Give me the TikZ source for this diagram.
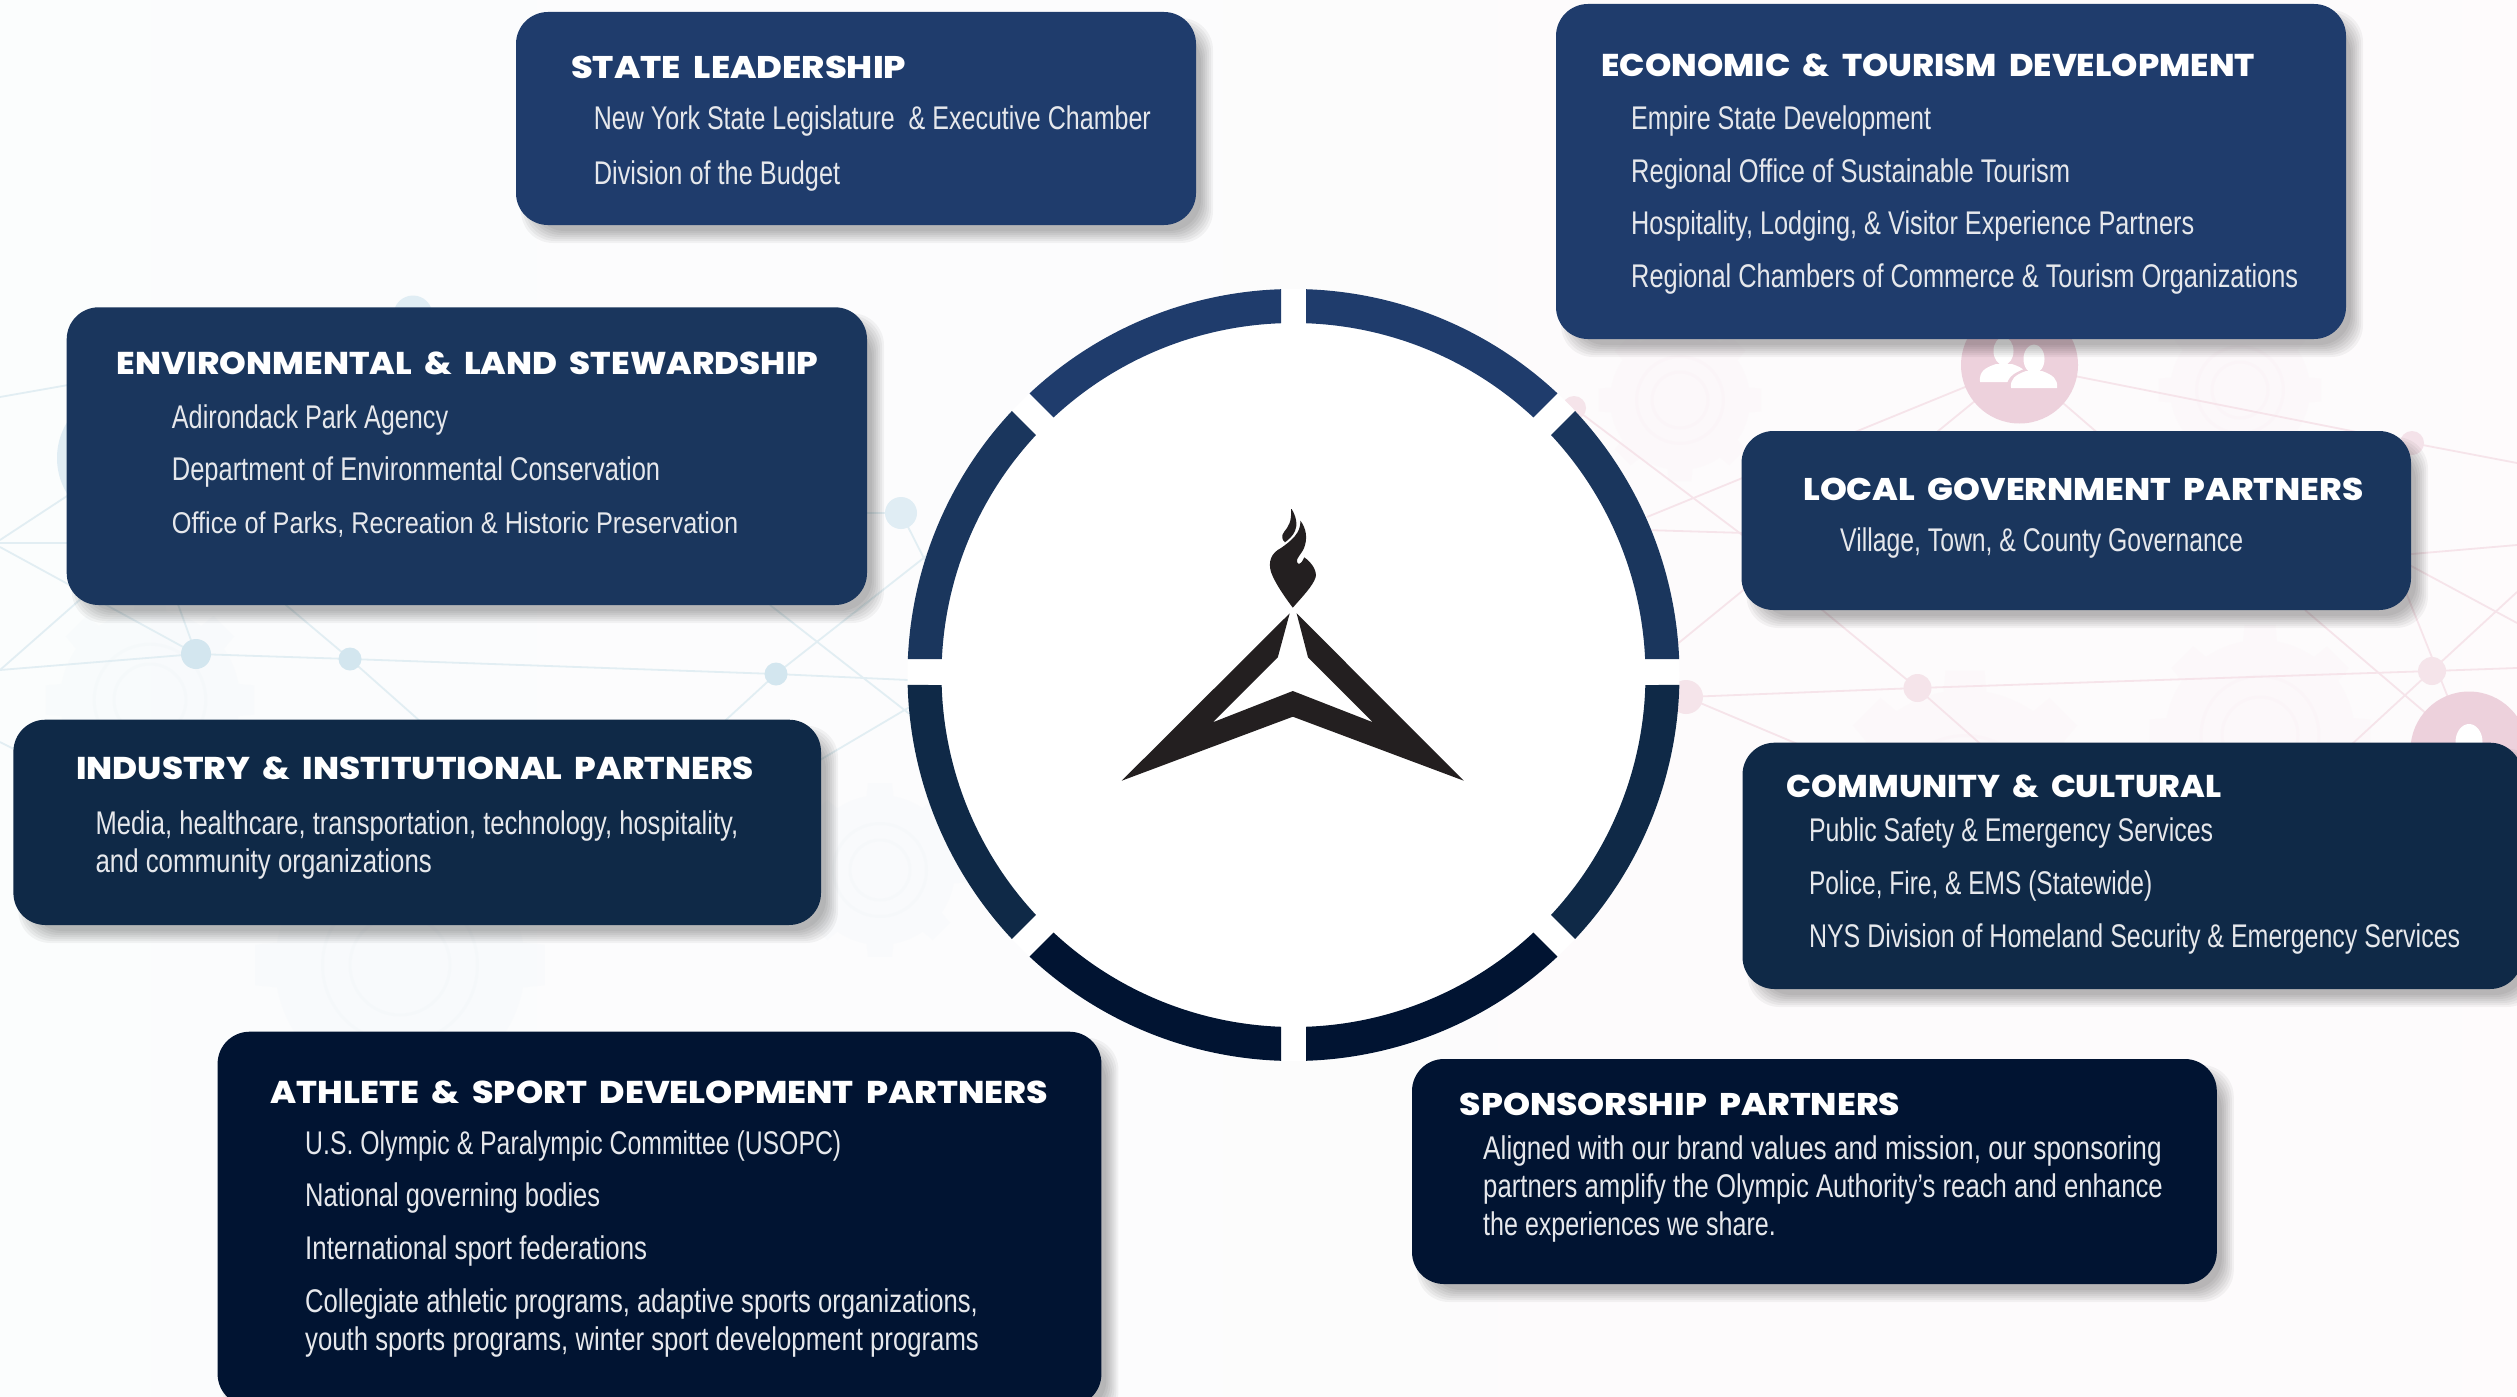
\documentclass[tikz,border=0pt]{standalone}
\usepackage{graphicx}
\usepackage{fontspec}
\setmainfont{Liberation Sans}
\newfontfamily\hdfont[UprightFont=* ExtraBold,WordSpace=1.9]{Poppins}
\definecolor{navA}{HTML}{1F3C6C}
\definecolor{navB}{HTML}{1A365D}
\definecolor{navC}{HTML}{0F2947}
\definecolor{navD}{HTML}{011432}
\definecolor{logoK}{HTML}{231F20}
\definecolor{bodyT}{HTML}{E6E8EC}
\definecolor{blueN}{HTML}{D3E6EF}
\definecolor{blueL}{HTML}{E2EEF3}
\definecolor{pinkN}{HTML}{F5E4EA}
\definecolor{pinkB}{HTML}{EDD1DC}
\definecolor{pinkL}{HTML}{F6E4EA}
\tikzset{
  x=1pt,y=-1pt,
  cardbox/.style={rounded corners=32pt,inner sep=0pt,outer sep=0pt},
  headtxt/.style={anchor=base west,inner sep=0pt,text=white,font=\hdfont\fontsize{31}{36}\selectfont},
  bodytxt/.style={anchor=base west,inner sep=0pt,text=bodyT,font=\fontsize{25.5}{30}\selectfont},
  bnet/.style={draw=blueL,line width=1.8pt},
  pnet/.style={draw=pinkL,line width=1.8pt}
}
% name x1 y1 x2 y2 colour
\newcommand\card[6]{%
  \foreach \d in {-6,-4,-2,0,2,4,6}{%
    \fill[black,opacity=.042,rounded corners=32pt]
      ({#2+11+\d},{#3+12+\d}) rectangle ({#4+11-\d},{#5+12-\d});}
  \node[cardbox,fill=#6,minimum width={(#4-#2)*1pt},minimum height={(#5-#3)*1pt}] (#1) at ({(#2+#4)/2},{(#3+#5)/2}) {};
}
% name x baseline xend text
\newcommand\hl[5]{\node[headtxt] (#1) at (#2,{#3+1}) {\resizebox{\dimexpr #4pt-#2pt\relax}{\totalheight}{#5}};}
\newcommand\bl[5]{\node[bodytxt] (#1) at (#2,{#3+2.5}) {\resizebox{\dimexpr #4pt-#2pt\relax}{\totalheight}{#5}};}
% ring segment: colour, outer start, outer end, inner end, inner start
\newcommand\rseg[5]{%
  \fill[#1] ({1293.5+386*cos(#2)},{675+386*sin(#2)}) arc[start angle={#2},end angle={#3},radius=386]
    -- ({1293.5+352*cos(#4)},{675+352*sin(#4)}) arc[start angle={#4},end angle={#5},radius=352] -- cycle;
}
% faint gear: x y r colour
\newcommand\cogshape[4]{%
  \fill[#4,opacity=.09] (#1,#2) circle[radius=#3]
    \foreach \a in {0,45,...,315}{
      ({#1+#3*.96*cos(\a-11)},{#2+#3*.96*sin(\a-11)}) -- ({#1+#3*1.17*cos(\a-8)},{#2+#3*1.17*sin(\a-8)}) -- ({#1+#3*1.17*cos(\a+8)},{#2+#3*1.17*sin(\a+8)}) -- ({#1+#3*.96*cos(\a+11)},{#2+#3*.96*sin(\a+11)}) -- cycle};
  \draw[#4,opacity=.12,line width=3pt] (#1,#2) circle[radius={#3*.62}];
  \draw[#4,opacity=.12,line width=3pt] (#1,#2) circle[radius={#3*.4}];
}
\begin{document}
\begin{tikzpicture}
\useasboundingbox (0,0) rectangle (2517,1397);
\shade[left color=blueL!14!white,middle color=white,right color=pinkL!16!white] (0,0) rectangle (2517,1397);
% faint gears
\cogshape{400}{965}{125}{blueL}
\cogshape{880}{870}{75}{blueL}
\cogshape{150}{700}{90}{blueL}
\cogshape{1965}{810}{120}{pinkL}
\cogshape{2260}{735}{95}{pinkL}
\cogshape{1680}{400}{70}{pinkL}
\cogshape{2240}{390}{70}{pinkL}
% blue network
\draw[bnet] (0,670) -- (196,654) -- (350,659) -- (776,674) -- (930,681);
\draw[bnet] (196,654) -- (125,458);
\draw[bnet] (0,547) -- (196,654);
\draw[bnet] (0,670) -- (125,560);
\draw[bnet] (350,659) -- (280,600);
\draw[bnet] (350,659) -- (430,730);
\draw[bnet] (0,397) -- (125,375);
\draw[bnet] (0,543) -- (125,543);
\draw[bnet] (0,540) -- (125,458);
\draw[bnet] (776,674) -- (930,553);
\draw[bnet] (776,674) -- (715,730);
\draw[bnet] (901,513) -- (940,590);
\draw[bnet] (800,513) -- (901,513);
\draw[bnet] (770,605) -- (930,730);
\draw[bnet] (820,760) -- (930,695);
\draw[bnet] (0,742) -- (30,757);
\fill[blueN!70!white] (125,458) circle[radius=68];
\fill[blueN!70!white] (413,315) circle[radius=19.5];
\fill[blueN] (196,654) circle[radius=15];
\fill[blueN] (350,659) circle[radius=11.5];
\fill[blueN] (776,674) circle[radius=11.5];
\fill[blueN!70!white] (901,513) circle[radius=16];
% pink network
\draw[pnet] (2019,365) -- (2412,443) -- (2517,463);
\draw[pnet] (2019,365) -- (1647,517);
\draw[pnet] (2019,365) -- (1670,650);
\draw[pnet] (2019,365) -- (2100,435);
\draw[pnet] (1574,408) -- (1745,537);
\draw[pnet] (1645,530) -- (1745,533);
\draw[pnet] (2400,555) -- (2517,545);
\draw[pnet] (1815,604) -- (1917,688) -- (1985,748);
\draw[pnet] (1686,697) -- (1917,688) -- (2432,671) -- (2517,668);
\draw[pnet] (1686,697) -- (1800,745);
\draw[pnet] (2305,610) -- (2469,750);
\draw[pnet] (2400,560) -- (2517,623);
\draw[pnet] (2405,590) -- (2469,750);
\draw[pnet] (2517,592) -- (2351,745);
\fill[pinkB] (2019.5,365) circle[radius=58.5];
\fill[pinkB] (2469,750) circle[radius=58.5];
\fill[white] (2469,742) ellipse[x radius=13.5,y radius=18];
\fill[pinkN!90!pinkB] (2412,443) circle[radius=12];
\fill[pinkN] (1917.5,688) circle[radius=14];
\fill[pinkN] (2432,671) circle[radius=14];
\fill[pinkN] (1686,697) circle[radius=17];
\fill[pinkN] (1574,408) circle[radius=12];
% people icon
\fill[white] (2003.5,351) ellipse[x radius=10,y radius=14];
\fill[white] (1980,382) .. controls (1979,372) and (1984,368) .. (1996,364) -- (2012,364) .. controls (2024,368) and (2028,372) .. (2027,382) -- cycle;
\fill[pinkB] (2034,359) ellipse[x radius=13,y radius=17];
\fill[pinkB] (2006,392) .. controls (2006,378) and (2012,374) .. (2024,369) -- (2044,369) .. controls (2056,374) and (2062,378) .. (2062,392) -- cycle;
\fill[white] (2034,359) ellipse[x radius=10.5,y radius=14.5];
\fill[white] (2011,388) .. controls (2010,379) and (2015,375) .. (2026,371) -- (2042,371) .. controls (2053,375) and (2058,379) .. (2057,388) -- cycle;
% disc and ring
\fill[white] (1293.5,675) circle[radius=386];
\rseg{navB}{-43.144}{-2.376}{-2.605}{-42.965}
\rseg{navC}{1.484}{43.144}{42.965}{1.628}
\rseg{navD}{46.856}{88.144}{87.965}{47.035}
\rseg{navD}{91.856}{133.144}{132.965}{92.035}
\rseg{navC}{136.856}{178.516}{178.372}{137.035}
\rseg{navB}{182.376}{223.144}{222.965}{182.605}
\rseg{navA}{226.856}{268.144}{267.965}{227.035}
\rseg{navA}{271.856}{313.144}{312.965}{272.035}
% logo
\fill[logoK] (1289.7,613.3) -- (1121.7,780.7) -- (1292.8,716.7) -- (1463.8,780.7) -- (1296.6,613.3) -- (1308,657.3) -- (1373,722.3) -- (1292.8,691) -- (1212.8,722.3) -- (1277.8,657.3) -- cycle;
\fill[logoK] (1292.8,607.7) .. controls (1284,596) and (1275,583) .. (1271,572) .. controls (1268,562) and (1271,553) .. (1281,548) .. controls (1291,541) and (1301,533) .. (1300.4,520.7) .. controls (1306,528) and (1308,538) .. (1304,548) .. controls (1301,555) and (1296,558) .. (1297,562) .. controls (1298,565) and (1301,565) .. (1304.2,557.3) .. controls (1311,562) and (1317,570) .. (1315.7,577) .. controls (1313,586) and (1302,597) .. (1292.8,607.7) -- cycle;
\fill[logoK] (1291.6,509) .. controls (1296,516) and (1298,525) .. (1295,531) .. controls (1293,536) and (1288,540) .. (1285,542.3) .. controls (1282,540) and (1281,536) .. (1284,532) .. controls (1288,527) and (1292,522) .. (1291,509) -- cycle;
% cards
\card{state}{516}{12}{1196}{225}{navA}
\hl{stateh}{571}{77.7}{906}{STATE LEADERSHIP}
\bl{state1}{593.7}{126.7}{1150.6}{New York State Legislature\ \ \& Executive Chamber}
\bl{state2}{593.7}{181.7}{840}{Division of the Budget}

\card{econ}{1556}{4}{2346}{339}{navA}
\hl{econh}{1601.4}{76}{2254.6}{ECONOMIC \& TOURISM DEVELOPMENT}
\bl{econ1}{1631}{126.7}{1931}{Empire State Development}
\bl{econ2}{1631}{179.7}{2070}{Regional Office of Sustainable Tourism}
\bl{econ3}{1631}{231.7}{2194}{Hospitality, Lodging, \& Visitor Experience Partners}
\bl{econ4}{1631}{285}{2298}{Regional Chambers of Commerce \& Tourism Organizations}

\card{env}{66.7}{307.3}{867}{605}{navB}
\hl{envh}{116.7}{373}{818}{ENVIRONMENTAL \& LAND STEWARDSHIP}
\bl{env1}{171.7}{425.7}{448}{Adirondack Park Agency}
\bl{env2}{171.7}{478.3}{660}{Department of Environmental Conservation}
\bl{env3}{171.7}{530.7}{738}{Office of Parks, Recreation \& Historic Preservation}

\card{local}{1741.5}{431}{2411}{610}{navB}
\hl{localh}{1803}{499}{2363}{LOCAL GOVERNMENT PARTNERS}
\bl{local1}{1840}{549}{2243}{Village, Town, \& County Governance}

\card{ind}{13.4}{719.7}{821}{925}{navC}
\hl{indh}{76}{778}{753.6}{INDUSTRY \& INSTITUTIONAL PARTNERS}
\bl{ind1}{95.3}{831.7}{738}{Media, healthcare, transportation, technology, hospitality,}
\bl{ind2}{95.3}{870}{431.7}{and community organizations}

\card{comm}{1742.5}{742.7}{2522}{989}{navC}
\hl{commh}{1786.7}{796.7}{2221}{COMMUNITY \& CULTURAL}
\bl{comm1}{1808.8}{838.7}{2213}{Public Safety \& Emergency Services}
\bl{comm2}{1808.8}{891.7}{2152}{Police, Fire, \& EMS (Statewide)}
\bl{comm3}{1808.8}{945}{2460}{NYS Division of Homeland Security \& Emergency Services}

\card{ath}{217.6}{1031.7}{1101.4}{1406}{navD}
\hl{athh}{270.4}{1102.7}{1048}{ATHLETE \& SPORT DEVELOPMENT PARTNERS}
\bl{ath1}{305}{1152}{841}{U.S. Olympic \& Paralympic Committee (USOPC)}
\bl{ath2}{305}{1204}{600}{National governing bodies}
\bl{ath3}{305}{1257}{647}{International sport federations}
\bl{ath4}{305}{1310}{977.6}{Collegiate athletic programs, adaptive sports organizations,}
\bl{ath5}{305}{1348}{978.7}{youth sports programs, winter sport development programs}

\card{spon}{1412}{1059}{2216.8}{1284}{navD}
\hl{sponh}{1459.6}{1114}{1900}{SPONSORSHIP PARTNERS}
\bl{spon1}{1483}{1157}{2161.5}{Aligned with our brand values and mission, our sponsoring}
\bl{spon2}{1483}{1195}{2162.6}{partners amplify the Olympic Authority’s reach and enhance}
\bl{spon3}{1483}{1233}{1775.6}{the experiences we share.}
\end{tikzpicture}
\end{document}
